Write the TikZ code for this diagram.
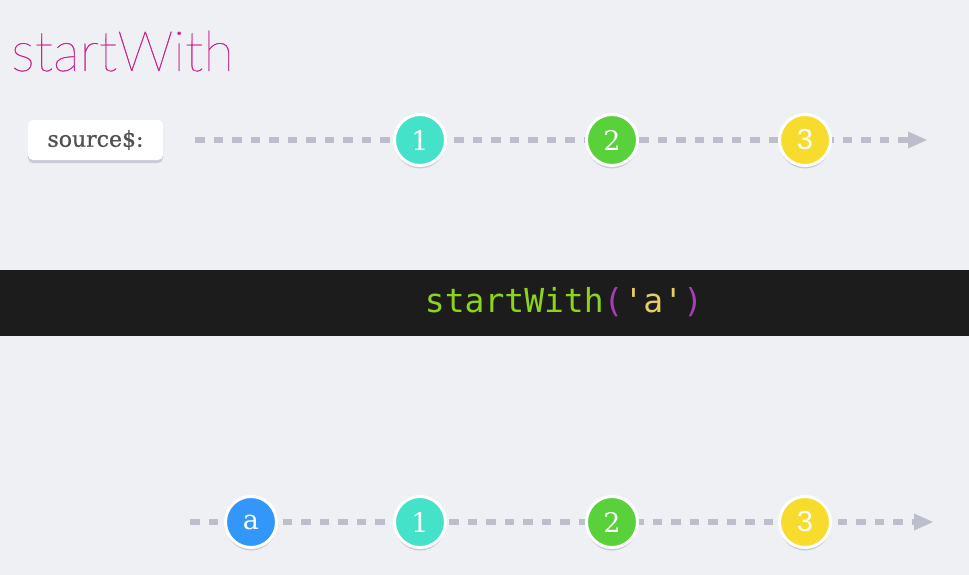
\documentclass[tikz,border=0pt]{standalone}
\usepackage{fontspec}
\setmainfont{DejaVu Serif}
\IfFontExistsTF{Lato Thin}{\newfontfamily\titlefont[FakeBold=0.6]{Lato Thin}}{%
  \IfFontExistsTF{Lato Hairline}{\newfontfamily\titlefont[FakeBold=1]{Lato Hairline}}{\newfontfamily\titlefont{Lato Light}}}
\newfontfamily\labelfont[FakeBold=0.8]{DejaVu Serif}
\newfontfamily\codefont{DejaVu Sans Mono}
\newfontfamily\numsans{Liberation Sans}
\usetikzlibrary{shadows}
\definecolor{bgcol}{HTML}{EFF0F4}
\definecolor{titlecol}{HTML}{C8278C}
\definecolor{dashcol}{HTML}{BDBECB}
\definecolor{shadowcol}{HTML}{C9CAD6}
\definecolor{bandcol}{HTML}{1C1C1C}
\definecolor{codegreen}{HTML}{8CD41C}
\definecolor{codepurple}{HTML}{A53DB5}
\definecolor{codeyellow}{HTML}{E4CF63}
\definecolor{cteal}{HTML}{44E2C9}
\definecolor{cgreen}{HTML}{58D13A}
\definecolor{cyellow}{HTML}{F7DC2E}
\definecolor{cblue}{HTML}{3297F8}
\definecolor{labeltext}{HTML}{505050}
\pgfdeclarelayer{bgl}
\pgfdeclarelayer{lines}
\pgfsetlayers{bgl,lines,main}
\tikzset{
  marble/.style={circle, minimum size=51pt, inner sep=0pt, draw=white, line width=3pt,
    text=white, font=\fontsize{27}{27}\selectfont,
    drop shadow={shadow xshift=0pt, shadow yshift=-3pt, fill=shadowcol, opacity=1}},
  timeline/.style={draw=dashcol, line width=5.5pt, dash pattern=on 9.5pt off 9pt},
  tiparrow/.style={fill=dashcol},
  srclabel/.style={fill=white, rounded corners=5pt, minimum width=135pt, minimum height=40pt,
    text=labeltext, font=\labelfont\fontsize{22}{22}\selectfont,
    drop shadow={shadow xshift=0pt, shadow yshift=-3pt, fill=shadowcol, opacity=1}},
}
\begin{document}
\begin{tikzpicture}[x=1pt, y=-1pt]
\begin{pgfonlayer}{bgl}
\fill[bgcol] (0,0) rectangle (969,575);
\fill[bandcol] (0,270) rectangle (969,336);
\end{pgfonlayer}
\useasboundingbox (0,0) rectangle (969,575);

% title
\node[anchor=base west, inner sep=0pt, text=titlecol, font=\titlefont\fontsize{56}{56}\selectfont] (title) at (11,71) {startWith};

% source label
\node[srclabel] (src) at (95.5,140) {source\$:};

% top timeline
\coordinate (s1) at (195,140);
\coordinate (e1) at (908,140);
\node[marble, fill=cteal] (t1) at (420,140) {1};
\node[marble, fill=cgreen] (t2) at (612,140) {2};
\node[marble, fill=cyellow, font=\numsans\fontsize{29}{29}\selectfont] (t3) at (805,140) {3};
\begin{pgfonlayer}{lines}
\draw[timeline] (s1) -- (t1.center) -- (t2.center) -- (t3.center) -- (e1);
\fill[tiparrow] (e1) -- ++(0,-8.5) -- ++(19,8.5) -- ++(-19,8.5) -- cycle;
\end{pgfonlayer}

% operator
\node[inner sep=0pt, font=\codefont\fontsize{33}{33}\selectfont] (op) at (564,302)
  {\textcolor{codegreen}{startWith}\textcolor{codepurple}{(}\textcolor{codeyellow}{'a'}\textcolor{codepurple}{)}};

% bottom timeline
\coordinate (s2) at (190,522);
\coordinate (e2) at (914,522);
\node[marble, fill=cblue] (ba) at (251,522) {a};
\node[marble, fill=cteal] (b1) at (420,522) {1};
\node[marble, fill=cgreen] (b2) at (612,522) {2};
\node[marble, fill=cyellow, font=\numsans\fontsize{29}{29}\selectfont] (b3) at (805,522) {3};
\begin{pgfonlayer}{lines}
\draw[timeline] (s2) -- (ba.center) -- (b1.center) -- (b2.center) -- (b3.center) -- (e2);
\fill[tiparrow] (e2) -- ++(0,-8.5) -- ++(19,8.5) -- ++(-19,8.5) -- cycle;
\end{pgfonlayer}
\end{tikzpicture}
\end{document}
